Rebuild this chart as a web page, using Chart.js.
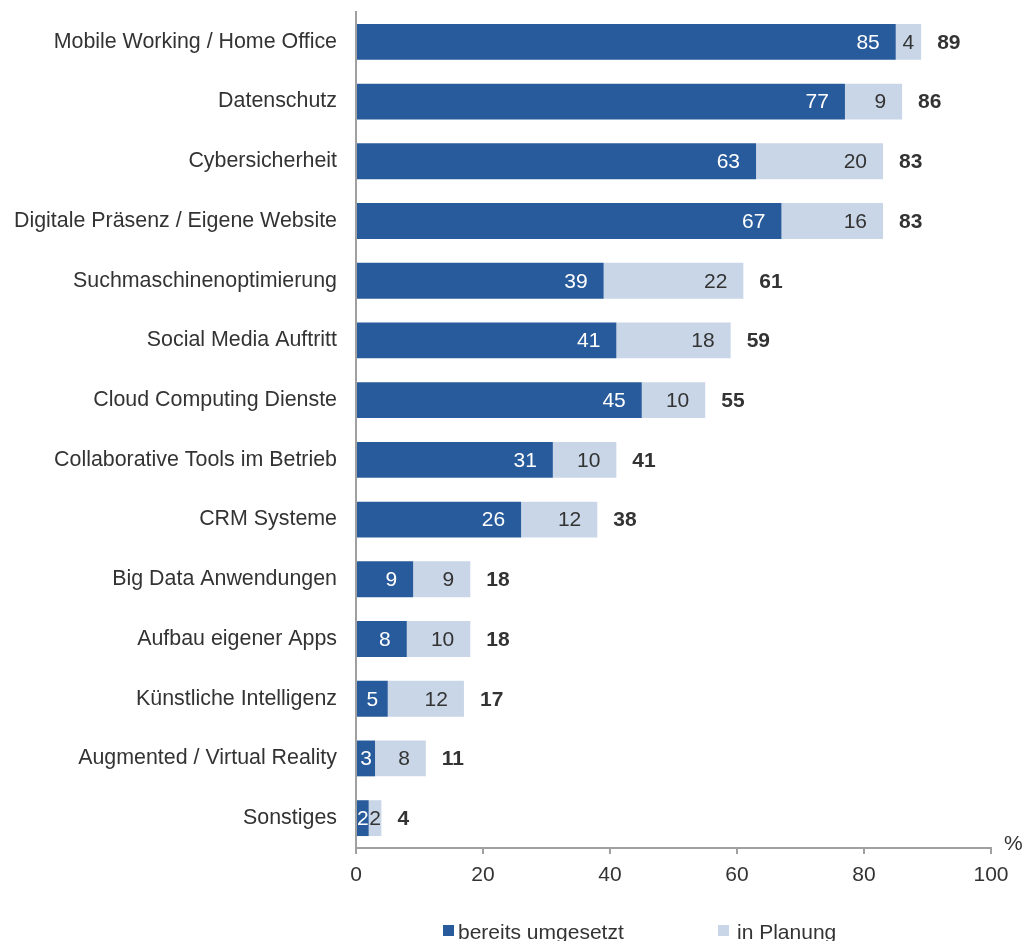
<!DOCTYPE html>
<html lang="de">
<head>
<meta charset="utf-8">
<title>Digitalisierung im Betrieb</title>
<script src="https://cdn.jsdelivr.net/npm/chart.js@4/dist/chart.umd.min.js"></script>
<style>
    html, body { margin: 0; padding: 0; background: #fff; }
    #wrap { width: 1026px; height: 941px; overflow: hidden; }
</style>
</head>
<body>
<div id="wrap"><canvas id="digital-chart" width="1026" height="941"></canvas></div>
<script>
// Umfrage-Daten (Angaben in %)
const categories = [
    'Mobile Working / Home Office',
    'Datenschutz',
    'Cybersicherheit',
    'Digitale Präsenz / Eigene Website',
    'Suchmaschinenoptimierung',
    'Social Media Auftritt',
    'Cloud Computing Dienste',
    'Collaborative Tools im Betrieb',
    'CRM Systeme',
    'Big Data Anwendungen',
    'Aufbau eigener Apps',
    'Künstliche Intelligenz',
    'Augmented / Virtual Reality',
    'Sonstiges'
];
const umgesetzt = [85, 77, 63, 67, 39, 41, 45, 31, 26, 9, 8, 5, 3, 2];
const inPlanung = [4, 9, 20, 16, 22, 18, 10, 10, 12, 9, 10, 12, 8, 2];
const gesamt = [89, 86, 83, 83, 61, 59, 55, 41, 38, 18, 18, 17, 11, 4];
const xTicks = [0, 20, 40, 60, 80, 100];

const FONT = '"Liberation Sans", Arial, sans-serif';
const SIZE = 21;
const TEXT = '#333333';
const AXIS = '#a0a0a0';

Chart.defaults.font.family = FONT;
Chart.defaults.font.size = SIZE;
Chart.defaults.color = TEXT;

// Werte innen am Balkenende (bei schmalen Segmenten mittig), Summen rechts daneben
const labelPlugin = {
    id: 'labels',
    afterDatasetsDraw(chart) {
        const ctx = chart.ctx;
        const x = chart.scales.x;
        ctx.save();
        ctx.font = SIZE + 'px ' + FONT;
        ctx.textBaseline = 'middle';
        chart.data.datasets.forEach((ds, di) => {
            const meta = chart.getDatasetMeta(di);
            ctx.fillStyle = di === 0 ? '#ffffff' : TEXT;
            meta.data.forEach((bar, i) => {
                const txt = String(ds.data[i]);
                const w = ctx.measureText(txt).width;
                const seg = bar.x - bar.base;
                if (w + 24 > seg) {
                    ctx.textAlign = 'center';
                    ctx.fillText(txt, (bar.x + bar.base) / 2, bar.y + 1);
                } else {
                    ctx.textAlign = 'right';
                    ctx.fillText(txt, bar.x - 16, bar.y + 1);
                }
            });
        });

        const meta = chart.getDatasetMeta(1);
        ctx.font = 'bold ' + SIZE + 'px ' + FONT;
        ctx.textAlign = 'left';
        ctx.fillStyle = TEXT;
        gesamt.forEach((v, i) => {
            ctx.fillText(String(v), x.getPixelForValue(v) + 16, meta.data[i].y + 1);
        });
        ctx.restore();
    },
    afterDraw(chart) {
        const ctx = chart.ctx;
        const area = chart.chartArea;
        ctx.save();
        ctx.font = SIZE + 'px ' + FONT;
        ctx.fillStyle = TEXT;
        ctx.textBaseline = 'middle';
        ctx.textAlign = 'left';
        ctx.fillText('%', area.right + 13, area.bottom - 4);

        // Legende unten (läuft am unteren Rand aus)
        const y = area.bottom + 77;
        const items = [
            { x: 443, gap: 15, ds: chart.data.datasets[0] },
            { x: 718, gap: 19, ds: chart.data.datasets[1] }
        ];
        ctx.textBaseline = 'alphabetic';
        items.forEach(it => {
            ctx.fillStyle = it.ds.backgroundColor;
            ctx.fillRect(it.x, y, 11, 11);
            ctx.fillStyle = TEXT;
            ctx.fillText(it.ds.label, it.x + it.gap, y + 14);
        });
        ctx.restore();
    }
};

new Chart(document.getElementById('digital-chart'), {
    type: 'bar',
    data: {
        labels: categories,
        datasets: [
            {
                label: 'bereits umgesetzt',
                data: umgesetzt,
                backgroundColor: '#285b9b',
                barPercentage: 0.6,
                categoryPercentage: 1
            },
            {
                label: 'in Planung',
                data: inPlanung,
                backgroundColor: '#c9d6e7',
                barPercentage: 0.6,
                categoryPercentage: 1
            }
        ]
    },
    options: {
        indexAxis: 'y',
        responsive: false,
        animation: false,
        layout: {
            padding: { top: 12, right: 35, left: 0, bottom: 0 }
        },
        plugins: {
            legend: { display: false },
            tooltip: { enabled: false }
        },
        scales: {
            x: {
                stacked: true,
                min: 0,
                max: 100,
                afterBuildTicks: scale => {
                    scale.ticks = xTicks.map(v => ({ value: v }));
                },
                grid: {
                    drawOnChartArea: false,
                    drawTicks: true,
                    tickLength: 6,
                    color: AXIS,
                    lineWidth: 2
                },
                border: { display: true, color: AXIS, width: 2 },
                ticks: { padding: 9, color: TEXT, font: { size: SIZE } },
                afterFit: scale => { scale.height = 93; }
            },
            y: {
                stacked: true,
                grid: { display: false, drawTicks: false },
                border: { display: true, color: AXIS, width: 2 },
                ticks: { padding: 19, color: TEXT, font: { size: 21.4 } },
                afterFit: scale => {
                    scale.width = 356;
                    scale.paddingTop = 0;
                    scale.paddingBottom = 0;
                }
            }
        }
    },
    plugins: [labelPlugin]
});
</script>
</body>
</html>
